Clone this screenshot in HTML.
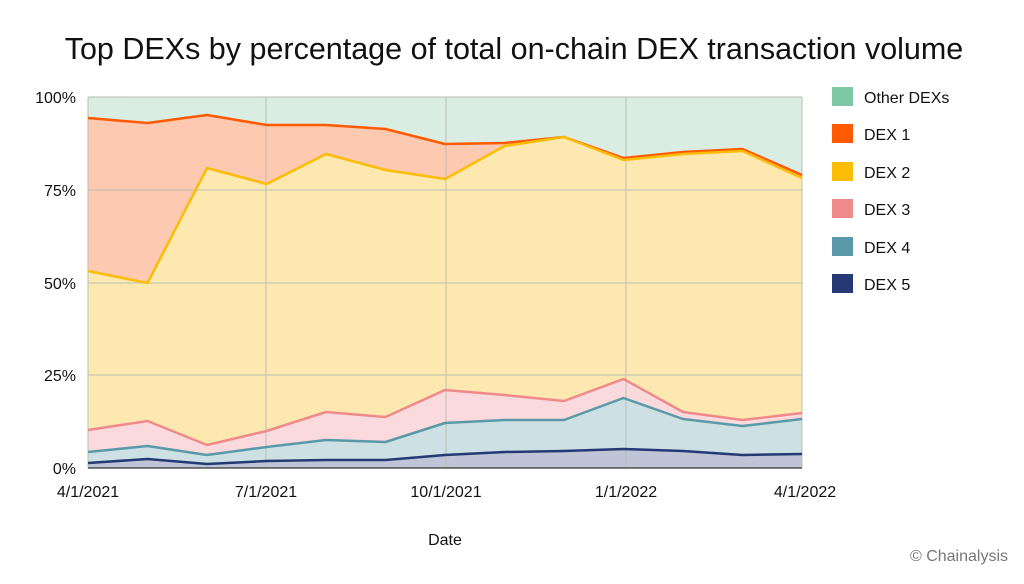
<!DOCTYPE html>
<html><head><meta charset="utf-8"><style>
body{margin:0;background:#fff;width:1024px;height:579px;overflow:hidden;font-family:"Liberation Sans","DejaVu Sans",sans-serif;}
</style></head><body>
<svg width="1024" height="579" xmlns="http://www.w3.org/2000/svg" font-family="Liberation Sans, DejaVu Sans, sans-serif">
<text x="514" y="59" text-anchor="middle" font-size="30.5" fill="#111">Top DEXs by percentage of total on-chain DEX transaction volume</text>
<rect x="88" y="97" width="714" height="371" fill="#d9ede3"/>
<polygon fill="#fdc9b0" points="88,118 147.5,123 207,115 266.5,125 326,125 385.5,129 445,144 504.5,143 564,137 623.5,158 683,152 742.5,149 802,175 802,468 88,468"/>
<polygon fill="#fde9b0" points="88,271 147.5,283 207,168 266.5,184 326,154 385.5,170 445,179 504.5,146 564,137 623.5,160 683,154 742.5,151 802,178 802,468 88,468"/>
<polygon fill="#fadadd" points="88,430 147.5,421 207,445 266.5,431 326,412 385.5,417 445,390 504.5,395 564,401 623.5,379 683,412 742.5,420 802,413 802,468 88,468"/>
<polygon fill="#cde0e3" points="88,452 147.5,446 207,455 266.5,447 326,440 385.5,442 445,423 504.5,420 564,420 623.5,398 683,419 742.5,426 802,419 802,468 88,468"/>
<polygon fill="#bfc4d6" points="88,463 147.5,459 207,464 266.5,461 326,460 385.5,460 445,455 504.5,452 564,451 623.5,449 683,451 742.5,455 802,454 802,468 88,468"/>
<g stroke="#b8c0b0" stroke-width="1.2" fill="none" opacity="0.8">
<line x1="88" y1="97" x2="802" y2="97"/><line x1="88" y1="190" x2="802" y2="190"/><line x1="88" y1="283" x2="802" y2="283"/><line x1="88" y1="375" x2="802" y2="375"/>
<line x1="266" y1="97" x2="266" y2="468"/><line x1="446" y1="97" x2="446" y2="468"/><line x1="626" y1="97" x2="626" y2="468"/><line x1="802" y1="97" x2="802" y2="468"/><line x1="88" y1="97" x2="88" y2="468"/>
</g>
<g fill="none" stroke-width="2.5" stroke-linejoin="round">
<polyline stroke="#ff5a00" points="88,118 147.5,123 207,115 266.5,125 326,125 385.5,129 445,144 504.5,143 564,137 623.5,158 683,152 742.5,149 802,175"/>
<polyline stroke="#fbbc05" points="88,271 147.5,283 207,168 266.5,184 326,154 385.5,170 445,179 504.5,146 564,137 623.5,160 683,154 742.5,151 802,178"/>
<polyline stroke="#f08a8a" points="88,430 147.5,421 207,445 266.5,431 326,412 385.5,417 445,390 504.5,395 564,401 623.5,379 683,412 742.5,420 802,413"/>
<polyline stroke="#5a9aa8" points="88,452 147.5,446 207,455 266.5,447 326,440 385.5,442 445,423 504.5,420 564,420 623.5,398 683,419 742.5,426 802,419"/>
<polyline stroke="#253a74" points="88,463 147.5,459 207,464 266.5,461 326,460 385.5,460 445,455 504.5,452 564,451 623.5,449 683,451 742.5,455 802,454"/>
</g>
<line x1="88" y1="468" x2="802" y2="468" stroke="#333" stroke-width="1.2"/>
<g font-size="16" fill="#111" text-anchor="end">
<text x="76" y="103">100%</text><text x="76" y="196">75%</text><text x="76" y="289">50%</text><text x="76" y="381">25%</text><text x="76" y="474">0%</text>
</g>
<g font-size="16" fill="#111" text-anchor="middle">
<text x="88" y="497">4/1/2021</text><text x="266" y="497">7/1/2021</text><text x="446" y="497">10/1/2021</text><text x="626" y="497">1/1/2022</text><text x="805" y="497">4/1/2022</text>
<text x="445" y="545">Date</text>
</g>
<g font-size="16" fill="#111">
<rect x="832" y="87" width="21" height="19" fill="#7dc9a5"/><text x="864" y="103">Other DEXs</text>
<rect x="832" y="124" width="21" height="19" fill="#ff5a00"/><text x="864" y="140">DEX 1</text>
<rect x="832" y="162" width="21" height="19" fill="#fbbc05"/><text x="864" y="178">DEX 2</text>
<rect x="832" y="199" width="21" height="19" fill="#f08a8a"/><text x="864" y="215">DEX 3</text>
<rect x="832" y="237" width="21" height="19" fill="#5a9aa8"/><text x="864" y="253">DEX 4</text>
<rect x="832" y="274" width="21" height="19" fill="#253a74"/><text x="864" y="290">DEX 5</text>
</g>
<text x="1008" y="561" text-anchor="end" font-size="16" fill="#777">© Chainalysis</text>
</svg>
</body></html>
